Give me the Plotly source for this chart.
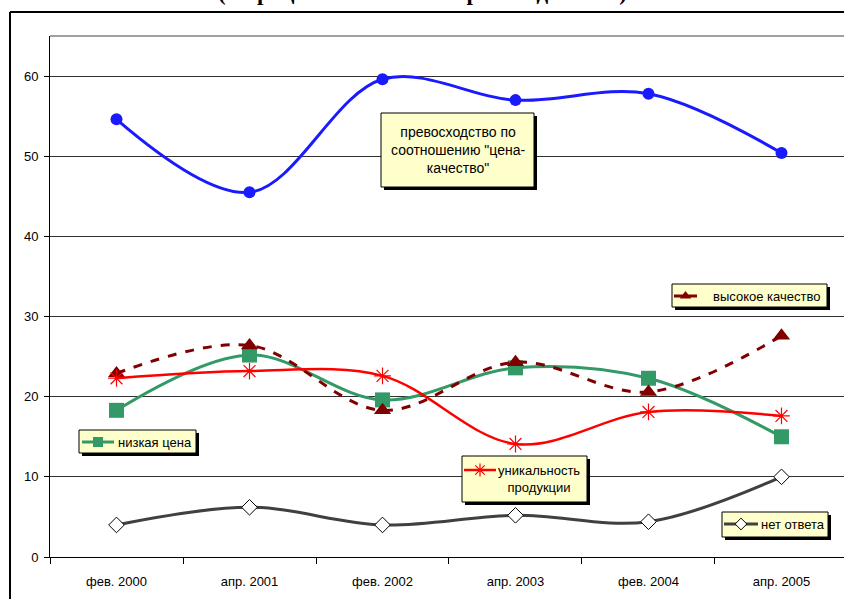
import plotly.graph_objects as go

# Survey waves
periods = ["фев. 2000", "апр. 2001", "фев. 2002", "апр. 2003", "фев. 2004", "апр. 2005"]

# Share of respondents (%)
price_quality = [54.6, 45.5, 59.6, 57.0, 57.8, 50.4]   # превосходство по соотношению "цена-качество"
low_price = [18.3, 25.2, 19.6, 23.6, 22.3, 15.0]        # низкая цена
high_quality = [22.9, 26.4, 18.3, 24.3, 20.6, 27.6]     # высокое качество
uniqueness = [22.3, 23.2, 22.6, 14.1, 18.1, 17.6]       # уникальность продукции
no_answer = [4.0, 6.2, 4.0, 5.2, 4.4, 10.0]             # нет ответа

y_ticks = [0, 10, 20, 30, 40, 50, 60]

# Figure geometry (pixels)
FW, FH = 844, 599
L, T, R, B = 50, 36, 0, 42
W, H = FW - L - R, FH - T - B
XR = (-0.5, 5.47)
YR = (0, 65)

def dx(px):
    return XR[0] + (px - L) / W * (XR[1] - XR[0])

def dy(py):
    return YR[0] + (T + H - py) / H * (YR[1] - YR[0])

def pxp(px):
    return (px - L) / W

def pyp(py):
    return (T + H - py) / H

xs = list(range(len(periods)))
FONT = "Liberation Sans, Arial, sans-serif"

fig = go.Figure()

fig.add_trace(go.Scatter(
    x=xs, y=price_quality, mode="lines+markers",
    line=dict(color="#1a1aff", width=3, shape="spline", smoothing=1),
    marker=dict(symbol="circle", size=12, color="#1a1aff"),
    showlegend=False))
fig.add_trace(go.Scatter(
    x=xs, y=low_price, mode="lines+markers",
    line=dict(color="#339966", width=3, shape="spline", smoothing=1),
    marker=dict(symbol="square", size=15, color="#339966"),
    showlegend=False))
fig.add_trace(go.Scatter(
    x=xs, y=high_quality, mode="lines+markers",
    line=dict(color="#800000", width=3, dash="dash", shape="spline", smoothing=1),
    marker=dict(symbol="triangle-up", size=15, color="#800000"),
    showlegend=False))
fig.add_trace(go.Scatter(
    x=xs, y=uniqueness, mode="lines+markers",
    line=dict(color="#ff0000", width=2.5, shape="spline", smoothing=1),
    marker=dict(symbol="asterisk-open", size=14, line=dict(color="#ff0000", width=1.2)),
    showlegend=False))
fig.add_trace(go.Scatter(
    x=xs, y=no_answer, mode="lines+markers",
    line=dict(color="#404040", width=3, shape="spline", smoothing=1),
    marker=dict(symbol="diamond", size=12, color="white", line=dict(color="black", width=1)),
    showlegend=False))

shapes = []
annotations = []

def label_box(x0, y0, x1, y1):
    # drop shadow, then the pale yellow box
    shapes.append(dict(type="rect", xref="x", yref="y", layer="between",
                       x0=dx(x0 + 3), x1=dx(x1 + 3), y0=dy(y0 + 3), y1=dy(y1 + 3),
                       fillcolor="black", line=dict(width=0)))
    shapes.append(dict(type="rect", xref="x", yref="y", layer="between",
                       x0=dx(x0), x1=dx(x1), y0=dy(y0), y1=dy(y1),
                       fillcolor="#ffffcc", line=dict(color="black", width=1)))

def label_text(cx, cy, text, size=13):
    annotations.append(dict(xref="paper", yref="paper", x=pxp(cx), y=pyp(cy),
                            xanchor="center", yanchor="middle", showarrow=False,
                            text=text, align="center",
                            font=dict(family=FONT, size=size, color="black")))

def legend_key(x0, x1, y, color, width, symbol, size, mcolor, mline=None):
    fig.add_trace(go.Scatter(
        x=[dx(x0), dx(x1)], y=[dy(y), dy(y)], mode="lines",
        line=dict(color=color, width=width), showlegend=False, hoverinfo="skip"))
    mk = dict(symbol=symbol, size=size, color=mcolor)
    if mline:
        mk["line"] = mline
    fig.add_trace(go.Scatter(
        x=[dx((x0 + x1) / 2)], y=[dy(y)], mode="markers", marker=mk,
        showlegend=False, hoverinfo="skip"))

# превосходство по соотношению "цена-качество"
label_box(381, 113, 534, 187)
label_text(458, 150, "превосходство по<br>соотношению \"цена-<br>качество\"", 14)

# высокое качество
label_box(672, 284, 827, 307)
legend_key(674, 697, 296, "#800000", 3, "triangle-up", 10, "#800000")
label_text(766, 296, "высокое качество")

# низкая цена
label_box(79, 430, 196, 453)
legend_key(82, 114, 442, "#339966", 3, "square", 10, "#339966")
label_text(155, 442, "низкая цена")

# уникальность продукции
label_box(462, 456, 587, 502)
legend_key(464, 496, 470, "#ff0000", 2.5, "asterisk-open", 11, "#ff0000",
           dict(color="#ff0000", width=1.2))
label_text(539, 479, "уникальность<br>продукции")

# нет ответа
label_box(722, 512, 828, 537)
legend_key(724, 758, 524, "#404040", 3, "diamond", 9, "white", dict(color="black", width=1))
label_text(793, 524, "нет ответа")

# plot-area top border and outer chart frame
shapes.append(dict(type="line", xref="paper", yref="paper", x0=0, x1=1, y0=1, y1=1,
                   line=dict(color="#808080", width=1.5), layer="above"))
shapes.append(dict(type="line", xref="paper", yref="paper",
                   x0=pxp(10), x1=pxp(10), y0=pyp(12), y1=pyp(FH + 5),
                   line=dict(color="black", width=2), layer="above"))
shapes.append(dict(type="line", xref="paper", yref="paper",
                   x0=pxp(10), x1=pxp(FW + 5), y0=pyp(12), y1=pyp(12),
                   line=dict(color="black", width=2), layer="above"))

# title (only its lower edge fits above the frame)
annotations.append(dict(xref="paper", yref="paper", x=pxp(422), y=pyp(6.5),
                        xanchor="center", yanchor="bottom", showarrow=False,
                        text="<b>(в процентах от числа производителей)</b>",
                        font=dict(family="Liberation Serif, Times New Roman, serif",
                                  size=23, color="black")))

fig.update_layout(
    width=FW, height=FH,
    margin=dict(l=L, r=R, t=T, b=B, pad=0),
    paper_bgcolor="white", plot_bgcolor="white",
    shapes=shapes, annotations=annotations,
    font=dict(family=FONT, size=13, color="black"),
    xaxis=dict(range=list(XR), tickmode="array", tickvals=xs, ticktext=periods,
               ticks="", showgrid=False, zeroline=False,
               showline=True, linecolor="black", linewidth=1,
               ticklabelstandoff=12,
               tickfont=dict(family=FONT, size=13, color="black"),
               minor=dict(tickmode="array", tickvals=[i - 0.5 for i in range(len(periods) + 1)],
                          ticks="outside", ticklen=6, tickcolor="black", tickwidth=1,
                          showgrid=False)),
    yaxis=dict(range=list(YR), tickmode="array", tickvals=y_ticks,
               ticks="outside", ticklen=5, tickcolor="black",
               showgrid=True, gridcolor="#303030", gridwidth=1,
               zeroline=False, showline=True, linecolor="black", linewidth=1,
               ticklabelstandoff=3,
               tickfont=dict(family=FONT, size=13, color="black")),
)

fig.write_html("out.html")
